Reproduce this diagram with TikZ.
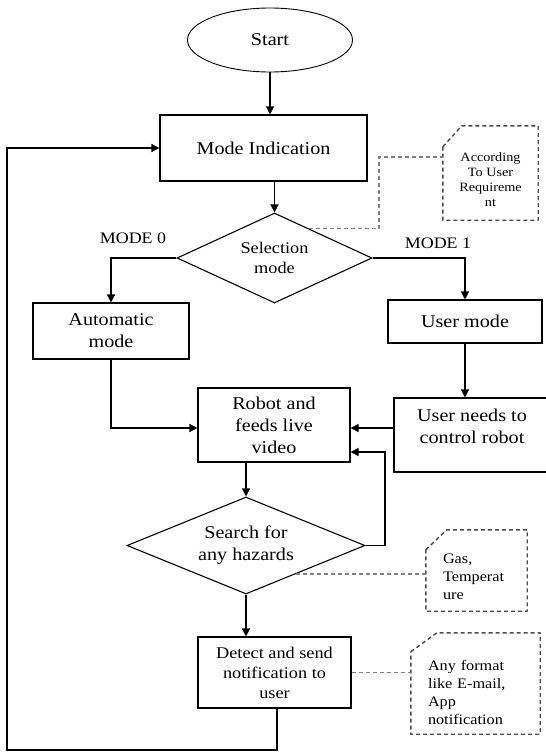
\documentclass[tikz,border=0pt]{standalone}
\usepackage{fontspec}
\setmainfont{Liberation Serif}[FakeStretch=1.12]
\usetikzlibrary{arrows.meta,shapes.geometric,calc}
\begin{document}
\begin{tikzpicture}[x=1pt,y=-1pt,
  shp/.style={draw, line width=1.1pt, inner sep=0pt, align=center, font=\fontsize{18}{22}\selectfont},
  box/.style={shp, rectangle},
  smallbox/.style={box, font=\fontsize{16.3}{20}\selectfont},
  dec/.style={shp, diamond},
  startshape/.style={shp, ellipse, line width=0.9pt},
  lbl/.style={inner sep=0pt, font=\fontsize{16}{19}\selectfont},
  notenode/.style={inner sep=0pt},
  notetext/.style={inner sep=0pt, font=\fontsize{14.5}{18}\selectfont},
  arr/.style={line width=1.3pt, -{Triangle[length=8pt,width=8pt]}},
  dline/.style={line width=1.2pt, gray, dash pattern=on 4pt off 3pt},
  nline/.style={line width=1.4pt, black!70, dash pattern=on 4pt off 3pt, line join=round}
]
\useasboundingbox (0,0) rectangle (546,753);
\fill[white] (0,0) rectangle (546,753);

% main nodes
\node[startshape, minimum width=165pt, minimum height=64pt] (start) at (270,40) {Start};
\node[box, minimum width=207pt, minimum height=66pt] (mode) at (263.5,148) {Mode Indication};
\node[dec, font=\fontsize{16.3}{20}\selectfont, shape aspect=2.17, minimum width=195pt, minimum height=90pt] (sel) at (274.5,258) {Selection\\mode};
\node[box, minimum width=156pt, minimum height=56pt] (auto) at (111,331) {Automatic\\mode};
\node[box, minimum width=154pt, minimum height=43pt] (user) at (465,321.5) {User mode};
\node[box, minimum width=156pt, minimum height=74pt] (uneeds) at (472,435) {User needs to\\control robot\\[-4pt]\mbox{}};
\node[box, minimum width=152pt, minimum height=74pt] (robot) at (274,425) {Robot and\\feeds live\\video};
\node[dec, shape aspect=2.45, minimum width=238pt, minimum height=97pt] (srch) at (246,545.5) {Search for\\any hazards};
\node[smallbox, minimum width=153pt, minimum height=71pt] (det) at (274.5,672.5) {Detect and send\\notification to\\user};

% branch labels
\node[lbl] (m0) at (133,238) {MODE 0};
\node[lbl] (m1) at (438,243) {MODE 1};

% notes
\node[notenode, minimum width=95pt, minimum height=94pt,
  label={[notetext, font=\fontsize{12.7}{15}\selectfont, align=center, yshift=-6.5pt]center:According\\To User\\Requireme\\nt}] (n1) at (490.5,173) {};
\node[notenode, minimum width=101pt, minimum height=81pt,
  label={[notetext, text width=67pt, align=left, yshift=-6pt]center:Gas,\\Temperat\\ure}] (n2) at (476.5,570.5) {};
\node[notenode, minimum width=129pt, minimum height=101pt,
  label={[notetext, text width=95pt, align=left, yshift=-9pt]center:Any format\\like E-mail,\\App\\notification}] (n3) at (475.5,683.5) {};

\draw[nline] ([yshift=-21pt]n1.north west) -- ([xshift=19pt]n1.north west) -- (n1.north east) -- (n1.south east) -- (n1.south west) -- cycle;
\draw[nline] ([yshift=-20pt]n2.north west) -- ([xshift=21pt]n2.north west) -- (n2.north east) -- (n2.south east) -- (n2.south west) -- cycle;
\draw[nline] ([yshift=-19pt]n3.north west) -- ([xshift=26pt]n3.north west) -- (n3.north east) -- (n3.south east) -- (n3.south west) -- cycle;

% helper coordinates
\coordinate (k1) at (379,157);
\coordinate (fb) at (385,452);
\coordinate (lp) at (7,750);
\coordinate (rin) at ([yshift=-3pt]robot.west);
\coordinate (rin2) at ([yshift=-3pt]robot.east);
\coordinate (s1) at ($(sel.north)!0.35!(sel.east)$);
\coordinate (s2) at ($(srch.east)!0.58!(srch.south)$);

% connectors
\draw[arr] (start.south) -- (start.south |- mode.north);
\draw[arr] (sel.north |- mode.south) -- (sel.north);
\draw[arr] (sel.west) -| (auto.north);
\draw[arr] (sel.east) -| (user.north);
\draw[arr] (user.south) -- (user.south |- uneeds.north);
\draw[arr] (auto.south) |- (rin);
\draw[arr] (rin2 -| uneeds.west) -- (rin2);
\draw[arr] (srch.north |- robot.south) -- (srch.north);
\draw[arr] (srch.east) -| (fb) -- (fb -| robot.east);
\draw[arr] (srch.south) -- (srch.south |- det.north);
\draw[arr] ([xshift=2.5pt]det.south) |- (lp) |- (mode.west);

% dashed callout lines
\draw[dline] (s1) -| (k1) -- (k1 -| n1.west);
\draw[dline] (s2) -- (s2 -| n2.west);
\draw[dline] (det.east) -- (det.east -| n3.west);
\end{tikzpicture}
\end{document}
